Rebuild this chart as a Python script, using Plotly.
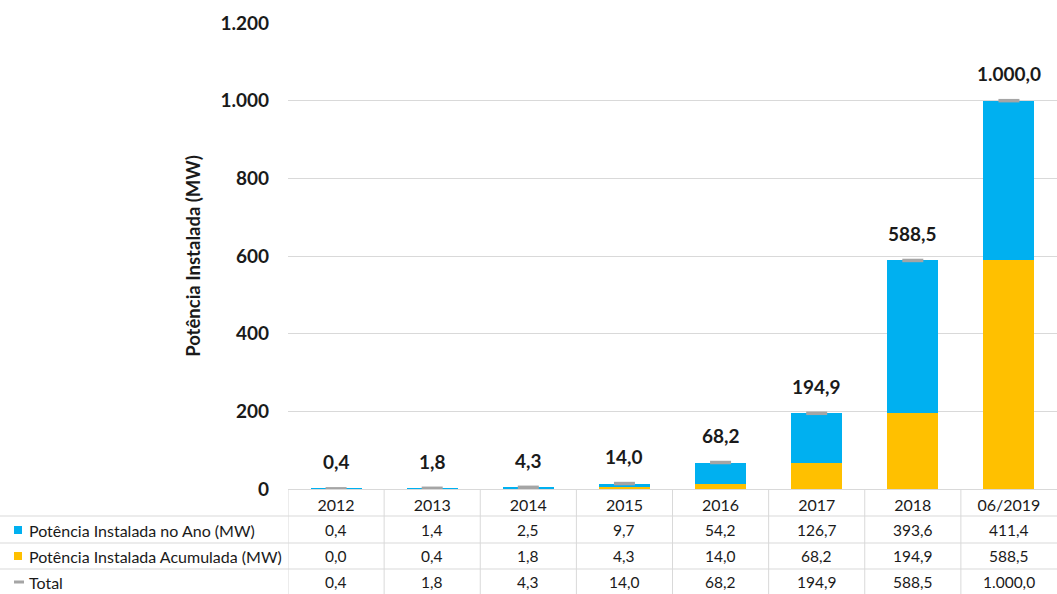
import plotly.graph_objects as go

# Installed capacity per period (MW)
categories = ["2012", "2013", "2014", "2015", "2016", "2017", "2018", "06/2019"]
instalada_ano = [0.4, 1.4, 2.5, 9.7, 54.2, 126.7, 393.6, 411.4]
instalada_acumulada = [0.0, 0.4, 1.8, 4.3, 14.0, 68.2, 194.9, 588.5]
total = [0.4, 1.8, 4.3, 14.0, 68.2, 194.9, 588.5, 1000.0]

y_ticks = [0, 200, 400, 600, 800, 1000, 1200]

series_names = [
    "Potência Instalada no Ano (MW)",
    "Potência Instalada Acumulada (MW)",
    "Total",
]

BLUE = "#00B0F0"
ORANGE = "#FFC000"
GRAY = "#A5A5A5"
GRID = "#D9D9D9"
TEXT = "#1A1A1A"
FONT = "Lato"

W, H = 1057, 594


def fmt_pt(v):
    """Format with Portuguese separators: 1.000,0"""
    s = f"{v:,.1f}"
    return s.replace(",", "_").replace(".", ",").replace("_", ".")


def py(px):
    """Pixel row (from top) to paper y."""
    return (H - px) / H


idx = list(range(len(categories)))

fig = go.Figure()

fig.add_trace(go.Bar(
    x=idx, y=instalada_acumulada, name=series_names[1],
    marker=dict(color=ORANGE, line=dict(width=0)), width=0.53,
))
fig.add_trace(go.Bar(
    x=idx, y=instalada_ano, name=series_names[0],
    marker=dict(color=BLUE, line=dict(width=0)), width=0.53,
))
fig.add_trace(go.Scatter(
    x=idx, y=total, name=series_names[2], mode="markers",
    marker=dict(symbol="line-ew", size=15, line=dict(color=GRAY, width=3.5)),
))

# Total labels above each bar
for i, v in zip(idx, total):
    fig.add_annotation(
        x=i, y=v, xref="x", yref="y", text=f"<b>{fmt_pt(v)}</b>",
        showarrow=False, yshift=27, yanchor="middle",
        font=dict(family=FONT, size=19, color=TEXT),
    )

# Data table under the axis
row_values = [instalada_ano, instalada_acumulada, total]
row_centers = [530, 556, 582]
for vals, yc in zip(row_values, row_centers):
    for i, v in zip(idx, vals):
        fig.add_annotation(
            x=i, y=py(yc), xref="x", yref="paper", text=fmt_pt(v),
            showarrow=False, yanchor="middle",
            font=dict(family=FONT, size=15.5, color=TEXT),
        )

for name, yc in zip(series_names, row_centers):
    fig.add_annotation(
        x=27 / W, y=py(yc), xref="paper", yref="paper", text=name,
        showarrow=False, xanchor="left", yanchor="middle",
        font=dict(family=FONT, size=16, color=TEXT),
    )

# legend keys in the table rows
shapes = [
    dict(type="rect", xref="paper", yref="paper",
         x0=14 / W, x1=22 / W, y0=py(row_centers[0] + 4), y1=py(row_centers[0] - 4),
         fillcolor=BLUE, line=dict(width=0)),
    dict(type="rect", xref="paper", yref="paper",
         x0=14 / W, x1=22 / W, y0=py(row_centers[1] + 4), y1=py(row_centers[1] - 4),
         fillcolor=ORANGE, line=dict(width=0)),
    dict(type="line", xref="paper", yref="paper",
         x0=14 / W, x1=24 / W, y0=py(row_centers[2]), y1=py(row_centers[2]),
         line=dict(color=GRAY, width=3)),
]

# table grid: row separators and column separators
for yl in [516, 543, 569]:
    shapes.append(dict(type="line", xref="paper", yref="paper",
                       x0=0, x1=1, y0=py(yl), y1=py(yl),
                       line=dict(color=GRID, width=1)))
for i in idx:
    shapes.append(dict(type="line", xref="x", yref="paper",
                       x0=i - 0.5, x1=i - 0.5, y0=0, y1=py(489),
                       line=dict(color=GRID, width=1)))

fig.update_layout(
    width=W, height=H,
    margin=dict(l=0, r=0, t=0, b=0, autoexpand=False),
    paper_bgcolor="white", plot_bgcolor="white",
    barmode="stack", bargap=0.47,
    showlegend=False,
    separators=",.",
    font=dict(family=FONT, color=TEXT),
    shapes=shapes,
    xaxis=dict(
        domain=[288 / W, 1], range=[-0.5, len(categories) - 0.5],
        tickmode="array", tickvals=idx, ticktext=categories,
        showgrid=False, zeroline=False, automargin=False,
        showline=True, linecolor=GRID, linewidth=1,
        ticks="", tickfont=dict(family=FONT, size=16, color=TEXT),
        ticklabelstandoff=2,
    ),
    yaxis=dict(
        domain=[py(489), py(23)], range=[0, 1200],
        tickvals=y_ticks, tickformat=",d", automargin=False,
        showgrid=True, gridcolor=GRID, gridwidth=1, zeroline=False,
        showline=False, ticks="",
        tickfont=dict(family=FONT, size=19, color=TEXT, weight="bold"),
        ticklabelstandoff=18,
        title=dict(text="<b>Potência Instalada (MW)</b>", standoff=14,
                   font=dict(family=FONT, size=18.5, color=TEXT)),
    ),
)

fig.write_html("out.html")
